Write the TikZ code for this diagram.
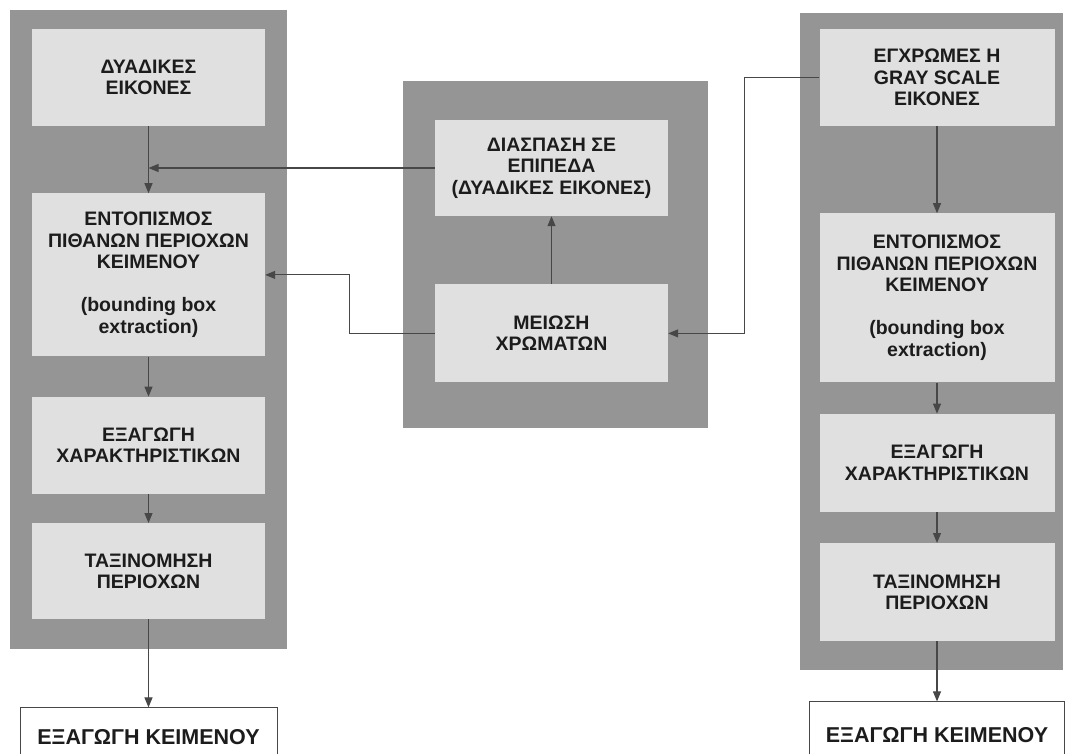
\documentclass[tikz,border=0pt]{standalone}
\usepackage{fontspec}
\setmainfont{Liberation Sans}
\usepackage{xcolor}
\usetikzlibrary{arrows.meta,positioning}

\definecolor{panelgray}{HTML}{959595}
\definecolor{boxgray}{HTML}{E0E0E0}
\definecolor{linegray}{HTML}{474747}
\definecolor{textdark}{HTML}{1C1C1C}

\begin{document}
\begin{tikzpicture}[
x=1pt,y=-1pt,
box/.style={fill=boxgray,align=center,inner sep=0pt,minimum width=233pt,text=textdark,font=\bfseries\fontsize{19.5}{21.5}\selectfont},
outbox/.style={draw=linegray,line width=0.9pt,fill=white,align=center,inner sep=0pt,text=textdark,font=\bfseries\fontsize{21.5}{24}\selectfont},
panel/.style={fill=panelgray},
arr/.style={-{Triangle[length=10pt,width=8pt]},line width=1.1pt,draw=linegray}
]
\useasboundingbox[fill=white] (0,0) rectangle (1068,754);
% grey panels
\fill[panel] (10,10) rectangle (287,649);
\fill[panel] (403,81) rectangle (708,428);
\fill[panel] (800,13) rectangle (1063,670);
% left column
\node[box,minimum height=97pt] (ldyad) at (148.5,77.5) {ΔΥΑΔΙΚΕΣ\\ΕΙΚΟΝΕΣ};
\node[box,minimum height=163pt,below=67pt of ldyad] (lent) {ΕΝΤΟΠΙΣΜΟΣ\\ΠΙΘΑΝΩΝ ΠΕΡΙΟΧΩΝ\\ΚΕΙΜΕΝΟΥ\\[21.5pt](bounding box\\extraction)};
\node[box,minimum height=97pt,below=40pt of lent] (lexag) {ΕΞΑΓΩΓΗ\\ΧΑΡΑΚΤΗΡΙΣΤΙΚΩΝ};
\node[box,minimum height=96pt,below=29pt of lexag] (ltax) {ΤΑΞΙΝΟΜΗΣΗ\\ΠΕΡΙΟΧΩΝ};
\node[outbox,minimum width=257pt,minimum height=58pt,below=88pt of ltax] (lout) {ΕΞΑΓΩΓΗ ΚΕΙΜΕΝΟΥ};
% middle column
\node[box,minimum height=96pt] (mdias) at (551.5,168) {ΔΙΑΣΠΑΣΗ ΣΕ\\ΕΠΙΠΕΔΑ\\(ΔΥΑΔΙΚΕΣ ΕΙΚΟΝΕΣ)};
\node[box,minimum height=98pt,below=68pt of mdias] (mmei) {ΜΕΙΩΣΗ\\ΧΡΩΜΑΤΩΝ};
% right column
\node[box,minimum width=235pt,minimum height=97pt] (rcol) at (937,77.5) {ΕΓΧΡΩΜΕΣ Η\\GRAY SCALE\\ΕΙΚΟΝΕΣ};
\node[box,minimum width=235pt,minimum height=169pt,below=87pt of rcol] (rent) {ΕΝΤΟΠΙΣΜΟΣ\\ΠΙΘΑΝΩΝ ΠΕΡΙΟΧΩΝ\\ΚΕΙΜΕΝΟΥ\\[21.5pt](bounding box\\extraction)};
\node[box,minimum width=235pt,minimum height=98pt,below=31pt of rent] (rexag) {ΕΞΑΓΩΓΗ\\ΧΑΡΑΚΤΗΡΙΣΤΙΚΩΝ};
\node[box,minimum width=235pt,minimum height=98pt,below=31pt of rexag] (rtax) {ΤΑΞΙΝΟΜΗΣΗ\\ΠΕΡΙΟΧΩΝ};
\node[outbox,minimum width=255pt,minimum height=66pt,below=60pt of rtax] (rout) {ΕΞΑΓΩΓΗ ΚΕΙΜΕΝΟΥ};
% arrows
\draw[arr] (ldyad)--(lent);
\draw[arr] (lent)--(lexag);
\draw[arr] (lexag)--(ltax);
\draw[arr] (ltax)--(lout);
\draw[arr] (mdias.west)--(ldyad.south |- mdias.west);
\draw[arr] (mmei.west)--++(-85,0)|-(lent.east);
\draw[arr] (mmei)--(mdias);
\draw[arr] (rcol.west)--++(-75,0)|-(mmei.east);
\draw[arr] (rcol)--(rent);
\draw[arr] (rent)--(rexag);
\draw[arr] (rexag)--(rtax);
\draw[arr] (rtax)--(rout);
\end{tikzpicture}
\end{document}
